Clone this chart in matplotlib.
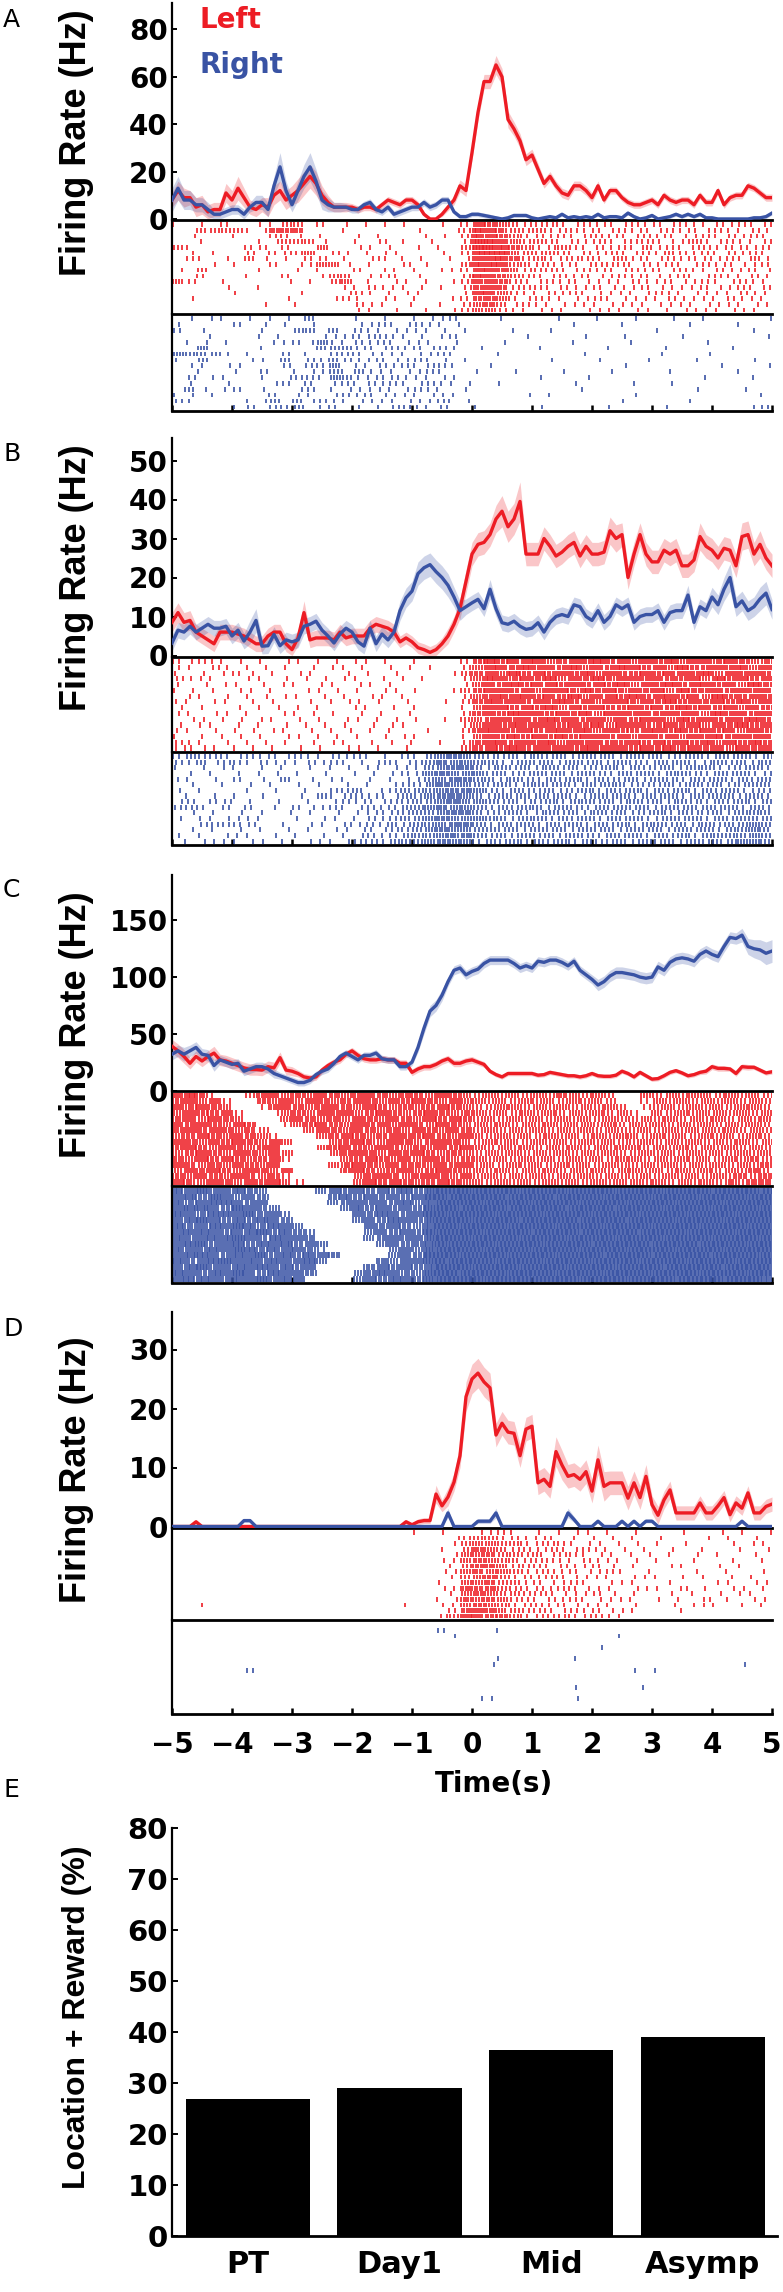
import numpy as np
import matplotlib.pyplot as plt

# PSTH bin centres (s)
t = np.linspace(-5, 5, 101)

# ---------------- panel A ----------------
A_LEFT = [8, 12, 9, 9, 5, 6, 3, 4, 4, 11,
          8, 13, 9, 5, 4, 6, 5, 10, 12, 8,
          10, 12, 15, 18, 15, 10, 7, 5, 5, 5,
          5, 4, 5, 5, 4, 6, 8, 7, 6, 8,
          8, 6, 2, 0, 0, 2, 5, 8, 14, 12,
          28, 45, 58, 58, 65, 60, 42, 38, 33, 25,
          27, 21, 15, 18, 14, 11, 10, 14, 14, 12,
          9, 14, 8, 12, 12, 9, 7, 6, 6, 7,
          8, 6, 10, 8, 7, 8, 8, 6, 10, 7,
          7, 12, 6, 9, 10, 10, 14, 13, 11, 9, 9]
A_LEFT_SEM = [3, 4, 4, 3, 4, 4, 3, 3, 3, 4,
              4, 5, 4, 3, 3, 3, 4, 4, 4, 4,
              4, 5, 5, 5, 5, 4, 3, 2, 2, 2,
              1.5, 1.5, 1.5, 1.5, 1.5, 1.5, 1.5, 1.5, 1.5, 1.5,
              1.5, 1.5, 1, 0.5, 0.5, 1, 1.5, 2, 2.5, 2.5,
              3, 3.5, 3, 3, 4, 3.5, 3.5, 3, 3, 2.5,
              2.5, 2.5, 2, 2, 2, 2, 2, 2, 2, 2,
              2, 2, 1.5, 1.5, 1.5, 1.5, 1.5, 1.5, 1.5, 1.5,
              1.5, 1.5, 1.5, 1.5, 1.5, 1.5, 1.5, 1.5, 1.5, 1.5,
              1.5, 1.5, 1.5, 1.5, 1.5, 1.5, 1.5, 1.5, 1.5, 1.5, 1.5]
A_RIGHT = [8, 13, 8, 8, 6, 6, 4, 2, 2, 3,
           4, 4, 2, 5, 7, 7, 4, 14, 22, 12,
           6, 12, 18, 22, 16, 8, 6, 5, 5, 5,
           4, 4, 6, 7, 4, 3, 5, 2, 3, 4,
           5, 5, 7, 5, 6, 8, 8, 3, 1, 1,
           2, 2, 1.5, 1, 0.5, 0, 0.5, 1.5, 1.5, 1.5,
           0.5, 0, 0.5, 1, 0.5, 2, 0.5, 1, 0.5, 1,
           0.5, 2, 0.5, 1, 1, 0.5, 2.5, 1, 0, 0.5,
           1.5, 0, 0.5, 1, 2, 1, 2, 1, 2, 0.5,
           0.5, 0, 0, 0, 0, 0, 0, 0.5, 0.5, 1, 2.5]
A_RIGHT_SEM = [5, 5, 4, 4, 3, 3, 3, 2, 2, 2,
               2, 2, 2, 2, 3, 3, 3, 4, 6, 4,
               3, 4, 5, 6, 5, 4, 3, 2, 2, 1.5,
               1.5, 1.5, 1.5, 1.5, 1.5, 1.5, 1.5, 1.5, 1.5, 1.5,
               1.5, 1.5, 1.5, 1.5, 1.5, 1.5, 1.5, 1, 1, 1,
               1, 1, 1, 1, 0.8, 0.8, 0.8, 0.8, 0.8, 0.8,
               0.8, 0.8, 0.8, 0.8, 0.8, 0.8, 0.8, 0.8, 0.8, 0.8,
               0.8, 0.8, 0.8, 0.8, 0.8, 0.8, 0.8, 0.8, 0.8, 0.8,
               0.8, 0.8, 0.8, 0.8, 0.8, 0.8, 0.8, 0.8, 0.8, 0.8,
               0.8, 0.8, 0.8, 0.8, 0.8, 0.8, 0.8, 0.8, 0.8, 0.8, 0.8]

# raster rows: one char = spike count in a 0.2 s bin, from -5 s to 5 s
A_LEFT_RASTER = [
    "1010200113 3020101101 0010265432 2221212121 2121121212",
    "0033331155 5000100000 1001276532 3222121212 1212121121",
    "0100010022 1010010100 0110276532 2121221212 1211212121",
    "0010000113 3310010201 0100287642 3212122122 2113212112",
    "3100002202 0040011010 1010388753 2232121213 1212212212",
    "0101002022 2402101110 0010277743 2321212212 1321212121",
    "0210103101 0220101201 1001166752 3222221312 1212212131",
    "0001010020 1144101002 0100377633 2212122212 1211212112",
    "1030000100 1010020110 1011266542 2221212121 2121121121",
    "0020001002 0013301120 1000276532 2121211212 1121121121",
    "4200100001 0103401011 0101266522 1212111121 1211211211",
    "0000100100 0000112111 1010256522 2121121112 1111211212",
    "0000010000 1000121011 1000166421 1212111111 2111111211",
    "0100000001 0001210110 1001255421 2111121111 1211112111",
    "0000000100 1000021101 0010245312 1111111111 1111111111",
    "0000000000 0000011010 0101244211 1110111111 0111111110",
]
A_RIGHT_RASTER = [
    "0101101011 0300010100 1112000100 0010010010 0100100001",
    "1000020101 0100011211 2111000000 0001000100 0001000100",
    "2010000100 3303021111 1110100010 0100000000 1000000010",
    "0001000110 0011122211 1012000001 0000100100 0010000001",
    "0110100011 2141121211 1101000100 0001000010 0000100000",
    "0040000100 0033312121 2121010000 1000001000 0100001000",
    "4333101002 0102221111 1121000100 0000100000 1000100000",
    "1030001103 0213211211 2110100000 0100010001 0001000010",
    "0110110002 0224011212 1221001000 0000000100 0000010001",
    "0010010200 1113131111 1210010010 0010001000 0100000100",
    "0201100101 2214311221 1111000000 1000100000 0000100010",
    "0100100012 0201212121 1211100100 0001000010 0100000000",
    "0310120100 1201111111 2110100000 0000100000 0001000100",
    "1101000020 1101212111 1111000001 0100000010 0000000001",
    "2100001130 3121111111 1121100000 0000000100 0001000000",
    "0000012022 3012010122 1120010000 1000001000 0100000012",
]

# ---------------- panel B ----------------
B_LEFT = [8.5, 11, 8.5, 9, 6, 5, 4, 3, 6, 6,
          6, 5.5, 5, 4, 3, 3, 5, 6, 6, 3,
          1.5, 4.5, 11, 4, 4.5, 4.5, 4.5, 4, 6, 4.5,
          5, 5, 5, 7, 8, 7.5, 7, 6, 3.5, 4.5,
          3.5, 2, 1.5, 0.8, 1.5, 3, 5, 8, 12, 19,
          26, 28.5, 29, 31, 35, 37, 33, 35, 39.5, 26,
          26, 26, 30, 28, 25.5, 26.5, 28, 29, 25.5, 28,
          26, 26, 26.5, 32, 30, 31, 20, 26, 31, 26,
          24, 24, 27, 26, 27, 23, 23, 24.5, 30.5, 28,
          27, 25, 27.5, 27, 23, 30.5, 31, 26, 28.5, 25, 23]
B_LEFT_SEM = [2.5, 2.5, 2.5, 2.5, 2, 2, 2, 2, 2, 2,
              2, 2, 2, 2, 2, 2, 2, 2, 2, 2,
              2, 2, 3, 2, 2, 2, 2, 2, 2, 2,
              2, 2, 2, 2, 2, 2, 2, 2, 1.5, 1.5,
              1.5, 1.5, 1.5, 1.5, 1.5, 1.5, 2, 2, 2.5, 3,
              3, 3, 3, 3, 3.5, 4, 4, 4, 5, 3,
              3, 3, 3, 3, 3, 3, 3, 3, 3, 3,
              3, 3, 3, 3.5, 3.5, 3, 3, 3, 3, 3,
              3, 3, 3, 3, 3, 3, 3, 3, 3.5, 3,
              3, 3, 3, 3, 3, 3.5, 3.5, 3, 3.5, 3, 3]
B_RIGHT = [3.2, 6.5, 6, 7.5, 6, 7, 8, 7, 7, 7.5,
           5, 6.5, 3.7, 6, 9, 2.4, 2.5, 5.4, 2.5, 4,
           3.5, 4, 7.5, 8, 8.8, 6.5, 5, 3.2, 5.5, 7,
           6, 3.5, 2.4, 7, 3, 5.5, 4, 6, 11.5, 14.8,
           16.5, 21, 22.5, 23.3, 21.5, 20, 18, 15, 11.5, 12.5,
           13.5, 14.4, 12, 17, 12, 8.4, 8, 8.8, 7.5, 6.7,
           7, 8.4, 6, 8.5, 10, 10.5, 10, 13, 12.5, 10,
           9, 11.5, 8.5, 10, 13, 12, 13, 8.5, 10, 10.5,
           10.5, 11.5, 8.5, 11, 11.5, 11.5, 15.5, 8.5, 12.5, 11.5,
           15, 13, 17, 20, 12.5, 14, 11.5, 12.5, 14.5, 16, 11.8]
B_RIGHT_SEM = [2, 2, 2, 2, 2, 2, 2, 2, 2, 2,
               2, 2, 2, 3, 3, 2, 2, 2, 2, 2,
               2, 2, 2, 2, 2, 2, 2, 2, 2, 2,
               2, 2, 2, 2, 2, 2, 2, 2, 2.5, 2.5,
               2.5, 3, 3, 3, 3, 3, 3, 2.5, 2.5, 2,
               2, 2, 2, 2.5, 2, 2, 2, 2, 2, 2,
               2, 2, 2, 2, 2, 2, 2, 2, 2, 2,
               2, 2, 2, 2, 2, 2, 2, 2, 2, 2,
               2, 2, 2, 2, 2, 2, 2.5, 2, 2, 2,
               2.5, 2.5, 3, 3.5, 2.5, 2.5, 2.5, 2.5, 3, 3, 2.5]
B_LEFT_RASTER = [
    "2121110101 1011011100 1000257566 6456575646 5746656545",
    "1102101101 0101110011 0100246657 5657465765 6475565746",
    "1010121010 1100101010 0001356475 6565746556 5665746565",
    "2111001101 0110110101 1000247656 5746575665 6556475656",
    "1010110101 1011011010 0000146575 6656565746 5756656475",
    "1101011010 0111010110 1001356656 4665756565 6475565656",
    "0110101101 1010101101 0000245766 5657466575 6656475565",
    "1101101010 0101110101 0010257565 6575646656 5756565746",
    "1010010110 1010011010 1000146656 5746565565 6575656465",
    "1101101001 1101010101 0000256576 6565746656 5656475656",
    "0110110110 1010110110 1010345656 5756564656 6475656575",
    "1011010101 0110101011 0000246575 6656574665 5656465756",
    "1101011011 0101101010 0100257656 5665746556 6575656465",
    "1010110101 1011010101 1000146575 6575665646 5646575656",
    "2110101101 0101101011 0010256656 5746565565 6565746575",
    "1211011010 1010110101 0000356575 6565756656 5756564656",
]
B_RIGHT_RASTER = [
    "2322212121 2112121102 1345432232 3232323232 3223232323",
    "2131221211 1212110221 2354433223 2323232322 3232232323",
    "1010110101 0101101111 1345532323 2323223232 2323322232",
    "0101010110 1010011012 2454442322 3232322323 2332232322",
    "1101020103 0101101011 1345533232 2323232232 3223232323",
    "0100101010 1010101012 2454432323 3232323322 2323232233",
    "1010001010 0102230123 3345542232 2322323232 3232323222",
    "0101010100 1031221213 2455432323 3232232323 2323233232",
    "1202201010 0101212122 3345443232 2323323232 3232232323",
    "2220202010 2112112123 3454432323 3232232323 2323323232",
    "0101010101 0101011222 3345532232 2323232322 3232232333",
    "1011111100 1011012123 3454443323 3232323232 2323232333",
    "0022222001 0110212132 3345532323 2323232323 3232323343",
    "0101010101 0101102122 3454433232 3232323232 3232323343",
    "1010111010 1010112123 3345532323 2323223232 3232333343",
    "0111111101 0111122233 3454423232 3232322323 2323233443",
]

# ---------------- panel C ----------------
C_LEFT = [39, 35, 30, 24, 30, 26, 30, 33, 27, 26,
          24, 22, 20, 18.5, 18.5, 18, 21, 20, 29, 18,
          17, 15, 12, 11, 12, 18, 22, 25, 27, 32,
          35, 31, 28, 27, 27, 28, 27, 27, 24, 24,
          16, 19, 21, 21, 23, 26, 28, 24, 24, 26,
          27, 25, 23, 17, 14, 12, 15, 15, 15, 15,
          15, 13.5, 14, 16, 15, 14, 13, 13, 12, 13,
          15, 13, 12.5, 12.5, 13.5, 17, 15, 12, 16, 13,
          10, 10.5, 13, 16, 17.5, 15.5, 13, 14, 16, 17,
          21, 19.5, 19.5, 19, 15, 21, 20.5, 20.5, 18, 15.5, 16.5]
C_LEFT_SEM = [6, 6, 6, 5, 5, 5, 5, 6, 5, 5,
              5, 5, 5, 5, 5, 5, 5, 5, 5, 4,
              4, 3, 3, 3, 3, 3, 3, 3, 3, 3,
              3, 3, 3, 3, 3, 3, 3, 3, 3, 3,
              3, 3, 3, 3, 3, 3, 3, 3, 3, 3,
              3, 2.5, 2.5, 2, 2, 2, 2, 2, 2, 2,
              2, 2, 2, 2, 2, 2, 2, 2, 2, 2,
              2, 2, 2, 2, 2, 2, 2, 2, 2, 2,
              2, 2, 2, 2, 2, 2, 2, 2, 2, 2.5,
              2.5, 2.5, 2.5, 2, 2.5, 2.5, 2.5, 2, 2, 2, 2]
C_RIGHT = [32, 35, 32, 35, 38, 32, 31, 22, 27, 25,
           23, 24, 17, 19, 21, 21, 19, 15, 13, 11,
           9, 7, 7, 9, 14, 17, 19, 24, 30, 33,
           30, 27, 31, 31, 33, 28, 27, 27, 21, 21,
           25, 38, 55, 70, 75, 84, 96, 106, 108, 102,
           105, 107, 112, 115, 115, 115, 115, 112, 108, 110,
           108, 114, 113, 115, 115, 113, 110, 114, 106, 102,
           98, 93, 96, 101, 104, 104, 103, 102, 100, 99,
           100, 109, 106, 113, 116, 117, 116, 114, 120, 123,
           120, 118, 127, 135, 134, 137, 127, 125, 124, 121, 123]
C_RIGHT_SEM = [5, 5, 6, 5, 5, 5, 5, 5, 4, 4,
               4, 4, 4, 4, 4, 4, 4, 4, 3, 3,
               3, 3, 3, 3, 3, 3, 3, 3, 3, 3,
               3, 3, 3, 3, 3, 3, 3, 3, 3, 3,
               3, 4, 5, 5, 5, 5, 4, 4, 4, 4,
               4, 4, 4, 4, 4, 4, 4, 4, 4, 4,
               4, 4, 4, 4, 4, 4, 4, 4, 4, 4,
               4, 5, 5, 5, 5, 5, 5, 5, 5, 5,
               5, 5, 5, 5, 5, 5, 5, 5, 5, 5,
               5, 5, 5, 5, 5, 6, 7, 8, 9, 10, 10]
C_LEFT_RASTER = [
    "6751003564 5465456545 5465434343 4354343004 3434434343",
    "5646200546 4654565465 6546443434 3434343002 4343434343",
    "6565400156 5456546545 4565433443 4343434302 3434343443",
    "4655620014 5465645654 5654543434 3434343420 4343443434",
    "5646540004 6545465465 4656534343 4343434334 3434343434",
    "6565465002 4565465646 5465443434 3434434343 4343434343",
    "5656545300 0465465454 6546534343 4343434334 3434434343",
    "4565465420 0045654565 5654643434 3434343443 4343434343",
    "6546565464 0004565465 4565434343 4343434334 3434343434",
    "5654654560 0045654654 5465643434 3434343443 4343434343",
    "4565465464 0004565465 6545434343 4343434334 3434343434",
    "5465654562 0000456546 4654543434 3434343443 4343434353",
    "6545465460 0004565465 5465634343 4343434334 3434343435",
    "4656546546 0000565456 4565443434 3434343443 4343434353",
    "5465465452 0000045654 5654634343 4343434334 3434343535",
    "6546546564 2000046565 4565443434 3434343443 4343435355",
]
C_RIGHT_RASTER = [
    "7685675400 0046565657 5899999999 9999999999 9999999999",
    "6758646500 0005756565 6999999999 9999999999 9999999999",
    "7567765600 0004565657 4799999999 9999999999 9999999999",
    "6776586540 0000475656 5899999999 9999999999 9999999999",
    "7657768563 0000065765 6999999999 9999999999 9999999999",
    "6786575765 0000046576 5899999999 9999999999 9999999999",
    "7567687576 4000006565 4799999999 9999999999 9999999999",
    "6776567857 5300004656 5999999999 9999999999 9999999999",
    "7567786576 6500004565 6899999999 9999999999 9999999999",
    "6785675767 5640000465 5799999999 9999999999 9999999999",
    "7657687576 6520000046 4899999999 9999999999 9999999999",
    "6776576857 5765000046 5999999999 9999999999 9999999999",
    "7567867576 6740000546 6899999999 9999999999 9999999999",
    "6785676767 5600005656 5799999999 9999999999 9999999999",
    "7657686576 6500045765 4899999999 9999999999 9999999999",
    "6776576857 6000046576 5899999999 9999999999 9999999997",
]

# ---------------- panel D ----------------
D_LEFT = [0, 0, 0, 0, 0.8, 0, 0, 0, 0, 0,
          0, 0, 0, 0, 0, 0, 0, 0, 0, 0,
          0, 0, 0, 0, 0, 0, 0, 0, 0, 0,
          0, 0, 0, 0, 0, 0, 0, 0, 0, 0.8,
          0.3, 0.8, 1, 1, 5.5, 3.5, 5, 7.5, 12, 22,
          25, 26, 24.5, 23.5, 15.5, 17.5, 16, 15.8, 12, 16.5,
          17, 7.4, 8, 6.8, 12.7, 10.4, 8.5, 8.8, 8, 9.3,
          6, 11.3, 6.8, 7.4, 7.4, 7.4, 4.8, 7.4, 4.9, 8.5,
          3.7, 1.9, 4.5, 6.2, 2.3, 2.3, 2.3, 2.3, 4, 2.3,
          2.3, 3.5, 4.9, 2, 4, 3.1, 5.7, 2.3, 2.3, 3.4, 3.8]
D_LEFT_SEM = [0, 0, 0, 0, 0.4, 0, 0, 0, 0, 0,
              0, 0, 0, 0, 0, 0, 0, 0, 0, 0,
              0, 0, 0, 0, 0, 0, 0, 0, 0, 0,
              0, 0, 0, 0, 0, 0, 0, 0, 0, 0.4,
              0.3, 0.5, 0.5, 0.5, 1.5, 1, 1.5, 1.5, 2, 2.5,
              2.5, 2.5, 2.5, 2.5, 2, 2, 2, 2, 2, 2,
              2, 2, 2, 2, 2.5, 2.5, 2, 2, 2, 2,
              2, 2.5, 2.5, 2, 2, 2, 2, 2, 2, 2,
              1.5, 1.5, 1.5, 1.5, 1.2, 1.2, 1.2, 1.2, 1.2, 1.2,
              1.2, 1.2, 1.2, 1.2, 1.2, 1.2, 1.2, 1.2, 1.2, 1.2, 1.2]
D_RIGHT = [0, 0, 0, 0, 0, 0, 0, 0, 0, 0,
           0, 0, 1, 1, 0, 0, 0, 0, 0, 0,
           0, 0, 0, 0, 0, 0, 0, 0, 0, 0,
           0, 0, 0, 0, 0, 0, 0, 0, 0, 0,
           0, 0, 0, 0, 0, 0, 2.3, 0, 0, 0,
           0, 0.9, 0.9, 0.9, 2.3, 0, 0, 0, 0, 0,
           0, 0, 0, 0, 0, 0, 2.3, 1.2, 0, 0,
           0, 0.9, 0, 0, 0, 0.9, 0, 0.9, 0, 0.9,
           0.9, 0, 0, 0, 0, 0, 0, 0, 0, 0,
           0, 0, 0, 0, 0, 0.9, 0, 0, 0, 0, 0]
D_RIGHT_SEM = [0, 0, 0, 0, 0, 0, 0, 0, 0, 0,
               0, 0, 0.3, 0.3, 0, 0, 0, 0, 0, 0,
               0, 0, 0, 0, 0, 0, 0, 0, 0, 0,
               0, 0, 0, 0, 0, 0, 0, 0, 0, 0,
               0, 0, 0, 0, 0, 0, 0.8, 0, 0, 0,
               0, 0.4, 0.4, 0.4, 0.8, 0, 0, 0, 0, 0,
               0, 0, 0, 0, 0, 0, 0.8, 0.5, 0, 0,
               0, 0.3, 0, 0, 0, 0.3, 0, 0.3, 0, 0.3,
               0.3, 0, 0, 0, 0, 0, 0, 0, 0, 0,
               0, 0, 0, 0, 0, 0.3, 0, 0, 0, 0, 0]
D_LEFT_RASTER = [
    "0000000000 0000000000 1010011210 1011101010 0010010101",
    "0000000000 0000000000 0001233221 1201011010 1000101010",
    "0000000000 0000000000 0001344332 2221110110 1010001011",
    "0000000000 0000000000 0010354322 1221211101 0100100101",
    "0000000000 0000000000 0001445332 3122111011 0101010010",
    "0000000000 0000000000 0011454332 2211211110 1001001001",
    "0000000000 0000000000 0001355422 2121121010 0110010100",
    "0000000000 0000000000 0011454432 2212112101 0001001001",
    "0000000000 0000000000 0001345322 1221111011 1010101010",
    "0000000000 0000000000 0010445331 2112101110 0100011011",
    "0000000000 0000000000 0011555322 2122111011 1020101101",
    "0000000000 0000000000 0001454332 2211121010 0101010110",
    "0000000000 0000000000 0011545422 1212111110 1010201011",
    "0010000000 0000000001 0011454322 2121111010 0101110101",
    "0000000000 0000000000 0002565432 2212121110 0010000000",
    "0000000000 0000000000 0023665532 2222221100 0000000000",
]
D_RIGHT_RASTER = [
    "",
    "0000000000 0000000000 0020000100 0000000000 0000000000",
    "0000000000 0000000000 0001000000 0000000100 0000000000",
    "",
    "0000000000 0000000000 0000000000 0000010000 0000000000",
    "",
    "0000000000 0000000000 0000000100 0001000000 0000000000",
    "0000000000 0000000000 0000001000 0000000000 0000000100",
    "0000002000 0000000000 0000000000 0000000010 1000000000",
    "",
    "",
    "0000000000 0000000000 0000000000 0001000001 0000000000",
    "",
    "0000000000 0000000000 0000011000 0001000000 0000000000",
    "",
    "",
]

# ---------------- panel E ----------------
E_GROUPS = ['PT', 'Day1', 'Mid', 'Asymp']
E_VALUES = [26.9, 29.0, 36.4, 39.0]

RED = '#ed1c24'
BLUE = '#3953a4'
W, H = 783, 2292

plt.rcParams['font.family'] = 'DejaVu Sans'
plt.rcParams['font.weight'] = 'bold'

fig = plt.figure(figsize=(W / 100, H / 100), dpi=100)


def add_ax(left, top, right, bottom):
    ax = fig.add_axes([left / W, 1 - bottom / H, (right - left) / W, (bottom - top) / H])
    ax.patch.set_visible(False)  # keep neighbouring spines visible
    return ax


def style(ax, bottom_lw=2.0):
    ax.spines['top'].set_visible(False)
    ax.spines['right'].set_visible(False)
    ax.spines['left'].set_linewidth(1.6)
    ax.spines['bottom'].set_linewidth(bottom_lw)


def draw_raster(ax, rows, color, length):
    xs, y0, y1 = [], [], []
    for r, row in enumerate(rows):
        row = row.replace(' ', '')
        for j, ch in enumerate(row):
            n = int(ch)
            # stagger spikes inside the bin so columns do not line up
            f = 0.1 + 0.8 * ((r * 0.618 + j * 0.7549) % 1)
            for i in range(n):
                xs.append(-5 + 0.2 * (j + (i + f) / n))
                y0.append(r - length / 2)
                y1.append(r + length / 2)
    ax.vlines(xs, y0, y1, colors=color, linewidth=1.2)
    ax.set_xlim(-5, 5)
    ax.set_ylim(len(rows) - 0.3, -0.8)
    ax.set_yticks([])


def band(ax, mean, sem, color):
    mean = np.asarray(mean, float)
    sem = np.asarray(sem, float)
    n = min(len(t), len(mean), len(sem))
    ax.fill_between(t[:n], np.clip(mean[:n] - sem[:n], 0, None), mean[:n] + sem[:n],
                    color=color, alpha=0.25, lw=0)


panels = [
    dict(letter='A', L=A_LEFT, Ls=A_LEFT_SEM, R=A_RIGHT, Rs=A_RIGHT_SEM,
         rl=A_LEFT_RASTER, rr=A_RIGHT_RASTER, yt=[0, 20, 40, 60, 80],
         psth=(3, 220), zero=219, pphz=2.37, red=(220, 314), blue=(314, 411),
         let_y=27, lab_y=143, ll=0.8),
    dict(letter='B', L=B_LEFT, Ls=B_LEFT_SEM, R=B_RIGHT, Rs=B_RIGHT_SEM,
         rl=B_LEFT_RASTER, rr=B_RIGHT_RASTER, yt=[0, 10, 20, 30, 40, 50],
         psth=(438, 657), zero=655.5, pphz=3.9, red=(657, 752), blue=(752, 845),
         let_y=461, lab_y=578, ll=0.9),
    dict(letter='C', L=C_LEFT, Ls=C_LEFT_SEM, R=C_RIGHT, Rs=C_RIGHT_SEM,
         rl=C_LEFT_RASTER, rr=C_RIGHT_RASTER, yt=[0, 50, 100, 150],
         psth=(875, 1091), zero=1090.5, pphz=1.134, red=(1091, 1186), blue=(1186, 1283),
         let_y=897, lab_y=1025, ll=1.0),
    dict(letter='D', L=D_LEFT, Ls=D_LEFT_SEM, R=D_RIGHT, Rs=D_RIGHT_SEM,
         rl=D_LEFT_RASTER, rr=D_RIGHT_RASTER, yt=[0, 10, 20, 30],
         psth=(1312, 1528), zero=1526.5, pphz=5.9, red=(1528, 1620), blue=(1620, 1714),
         let_y=1336, lab_y=1470, ll=0.85),
]

for p in panels:
    top, bot = p['psth']
    ax = add_ax(172, top, 772, bot)
    band(ax, p['L'], p['Ls'], RED)
    band(ax, p['R'], p['Rs'], BLUE)
    nL, nR = min(len(t), len(p['L'])), min(len(t), len(p['R']))
    ax.plot(t[:nL], p['L'][:nL], color=RED, lw=2.4, zorder=3)
    ax.plot(t[:nR], p['R'][:nR], color=BLUE, lw=2.4, zorder=3)
    ax.set_xlim(-5, 5)
    ax.set_ylim(-(bot - p['zero']) / p['pphz'], (p['zero'] - top) / p['pphz'])
    ax.set_xticks([])
    ax.set_yticks(p['yt'])
    ax.tick_params(axis='y', direction='in', length=3.5, width=1.4, labelsize=20, pad=3)
    style(ax)

    axr = add_ax(172, p['red'][0], 772, p['red'][1])
    draw_raster(axr, p['rl'], RED, p['ll'])
    axr.set_xticks([])
    style(axr)

    axb = add_ax(172, p['blue'][0], 772, p['blue'][1])
    draw_raster(axb, p['rr'], BLUE, p['ll'])
    axb.set_xticks(range(-5, 6))
    axb.tick_params(axis='x', direction='in', length=4, width=1.8,
                    labelbottom=(p['letter'] == 'D'), labelsize=20, pad=12)
    style(axb)

    fig.text(3 / W, 1 - p['let_y'] / H, p['letter'], fontsize=18, fontweight='normal',
             va='baseline', ha='left')
    fig.text(77 / W, 1 - p['lab_y'] / H, 'Firing Rate (Hz)', rotation=90, ha='center',
             va='center', fontsize=26, fontfamily='Liberation Sans', fontweight='bold')

# legend
fig.text(200 / W, 1 - 28 / H, 'Left', color=RED, fontsize=20, va='baseline')
fig.text(200 / W, 1 - 73 / H, 'Right', color=BLUE, fontsize=20, va='baseline')

fig.text(494 / W, 1 - 1792 / H, 'Time(s)', ha='center', va='baseline', fontsize=20)

# panel E
axe = add_ax(172, 1828, 777, 2236)
axe.bar(range(1, len(E_VALUES) + 1), E_VALUES, width=0.82, color='black')
axe.set_xlim(0.5, 4.49)
axe.set_ylim(0, 80)
axe.set_yticks(range(0, 81, 10))
axe.set_xticks(range(1, len(E_GROUPS) + 1))
axe.set_xticklabels(E_GROUPS)
axe.tick_params(axis='y', direction='in', length=4, width=1.4, labelsize=21, pad=3)
axe.tick_params(axis='x', length=0, labelsize=22, pad=10)
style(axe)
fig.text(3 / W, 1 - 1797 / H, 'E', fontsize=18, fontweight='normal', va='baseline', ha='left')
fig.text(77 / W, 1 - 2017 / H, 'Location + Reward (%)', rotation=90, ha='center',
         va='center', fontsize=23, fontfamily='Liberation Sans', fontweight='bold')

fig.savefig('out.png', dpi=100)
